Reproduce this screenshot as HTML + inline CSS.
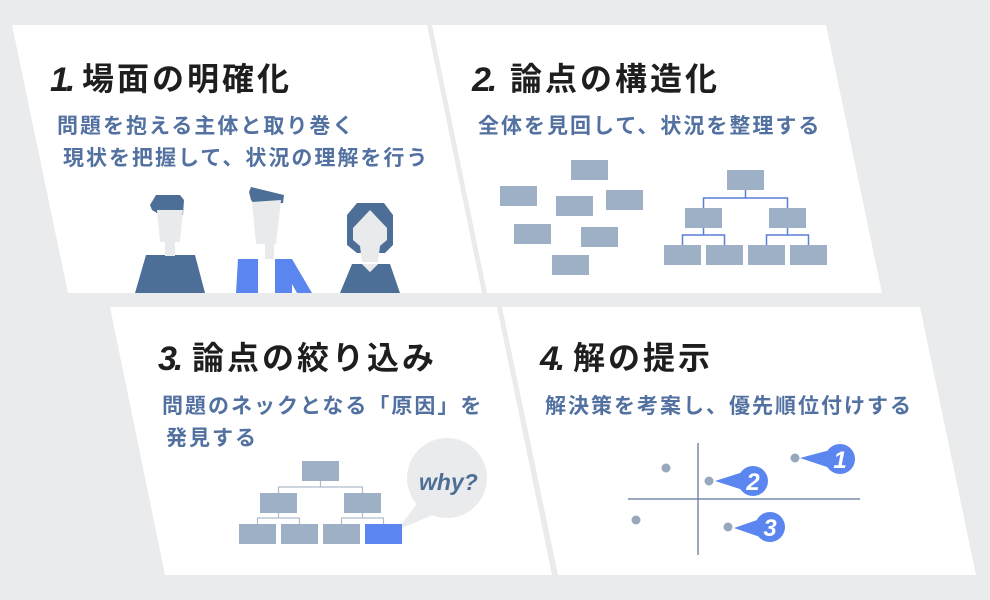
<!DOCTYPE html>
<html><head><meta charset="utf-8"><style>
html,body{margin:0;padding:0;background:#e9ebec;}
svg{display:block}
.t{font-family:"Liberation Sans","Noto Sans CJK JP",sans-serif;font-weight:bold;font-size:32px;letter-spacing:3px;fill:#1e1e1e}
.n{font-family:"Liberation Sans",sans-serif;font-weight:bold;font-style:italic;font-size:34px;letter-spacing:-3px;fill:#1e1e1e}
.s{font-family:"Liberation Sans","Noto Sans CJK JP",sans-serif;font-weight:bold;font-size:21px;letter-spacing:2px;fill:#5271a0}
.b{fill:#9eb0c6}
</style></head><body>
<svg width="990" height="600" viewBox="0 0 990 600" xmlns="http://www.w3.org/2000/svg">
<rect width="990" height="600" fill="#e9ebec"/>
<polygon points="12,25 427,25 482,293 68,293" fill="#fff"/>
<polygon points="432,25 826,25 882,293 487,293" fill="#fff"/>
<polygon points="110,307 497,307 552,575 165,575" fill="#fff"/>
<polygon points="502,307 920,307 976,575 558,575" fill="#fff"/>

<text x="50" y="91" class="n">1.</text><text x="82" y="90" class="t">場面の明確化</text>
<text x="57" y="133" class="s">問題を抱える主体と取り巻く</text>
<text x="63" y="165" class="s">現状を把握して、状況の理解を行う</text>

<text x="472" y="91" class="n">2.</text><text x="510" y="90" class="t">論点の構造化</text>
<text x="478" y="133" class="s">全体を見回して、状況を整理する</text>

<text x="158" y="370" class="n">3.</text><text x="192" y="369" class="t">論点の絞り込み</text>
<text x="162" y="413" class="s">問題のネックとなる「原因」を</text>
<text x="166" y="445" class="s">発見する</text>

<text x="540" y="370" class="n">4.</text><text x="573" y="369" class="t">解の提示</text>
<text x="545" y="413" class="s">解決策を考案し、優先順位付けする</text>

<!-- people -->
<g fill="#4d6f97">
<polygon points="150,205 156,195 180,195 184,200 183,215 157,213 152,210"/>
<polygon points="146,255 195,255 205,293 135,293"/>
<polygon points="249,192 251,187 284,195 283,203 255,205 251,200"/>
<polygon points="357,203 384,203 393,215 393,245 385,253 357,253 347,245 347,215"/>
<polygon points="352,264 362,264 370,272 378,264 390,264 400,293 340,293"/>
</g>
<g fill="#e8eaec">
<polygon points="157,210 183,210 180,242 160,242"/>
<rect x="165" y="240" width="10" height="16"/>
<polygon points="252,202 281,200 276,244 256,244"/>
<rect x="265" y="242" width="9" height="17"/>
<polygon points="370,210 387,228 387,240 380,246 378,262 362,262 360,246 353,240 353,228"/>
<polygon points="362,264 378,264 370,272"/>
</g>
<g fill="#5b86f0">
<polygon points="238,259 258,259 258,293 236,293"/>
<polygon points="275,259 292,259 312,293 297,293 292,284 292,293 275,293"/>
</g>

<!-- panel 2 boxes -->
<g class="b">
<rect x="571" y="160" width="37" height="20"/><rect x="500" y="186" width="37" height="20"/>
<rect x="556" y="196" width="37" height="20"/><rect x="606" y="190" width="37" height="20"/>
<rect x="514" y="224" width="37" height="20"/><rect x="581" y="227" width="37" height="20"/>
<rect x="552" y="255" width="37" height="20"/>
<rect x="727" y="170" width="37" height="20"/>
<rect x="685" y="208" width="37" height="20"/><rect x="769" y="208" width="37" height="20"/>
<rect x="664" y="245" width="37" height="20"/><rect x="706" y="245" width="37" height="20"/>
<rect x="748" y="245" width="37" height="20"/><rect x="790" y="245" width="37" height="20"/>
</g>
<g stroke="#5a7fd6" stroke-width="1.5" fill="none">
<path d="M745.5 190V198M703.5 208V198H787.5V208M703.5 228V235M682.5 245V235H724.5V245M787.5 228V235M766.5 245V235H808.5V245"/>
</g>

<!-- panel 3 tree -->
<circle cx="447" cy="478" r="40" fill="#e9ebec"/>
<polygon points="420,500 440,512 397,530" fill="#e9ebec"/>
<text x="419" y="490" font-family="Liberation Sans,sans-serif" font-weight="bold" font-style="italic" font-size="23" fill="#4d6f97">why?</text>
<g class="b">
<rect x="302" y="461" width="37" height="20"/>
<rect x="260" y="493" width="37" height="20"/><rect x="344" y="493" width="37" height="20"/>
<rect x="239" y="524" width="37" height="20"/><rect x="281" y="524" width="37" height="20"/>
<rect x="323" y="524" width="37" height="20"/>
</g>
<rect x="365" y="524" width="37" height="20" fill="#5b86f0"/>
<g stroke="#b0bccb" stroke-width="1.2" fill="none">
<path d="M320.5 481V487M278.5 493V487H362.5V493M278.5 513V518M257.5 524V518H299.5V524M362.5 513V518M341.5 524V518H383.5V524"/>
</g>

<!-- panel 4 -->
<g stroke="#5f789c" stroke-width="1.3">
<line x1="628" y1="499" x2="860" y2="499"/><line x1="698" y1="443" x2="698" y2="555"/>
</g>
<g fill="#97a8bd">
<circle cx="666" cy="468" r="4.5"/><circle cx="709" cy="481" r="4.5"/><circle cx="636" cy="520" r="4.5"/>
<circle cx="728" cy="527" r="4.5"/><circle cx="795" cy="458" r="4.5"/>
</g>
<g fill="#5b86f0">
<circle cx="840" cy="459" r="15"/><polygon points="800,458 830,450 830,468"/>
<circle cx="753" cy="481" r="15"/><polygon points="715,481 743,472 743,490"/>
<circle cx="770" cy="527" r="15"/><polygon points="734,528 760,519 760,537"/>
</g>
<g font-family="Liberation Sans,sans-serif" font-weight="bold" font-style="italic" font-size="24" fill="#fff" text-anchor="middle">
<text x="840" y="468">1</text><text x="753" y="490">2</text><text x="770" y="536">3</text>
</g>
</svg>
</body></html>
